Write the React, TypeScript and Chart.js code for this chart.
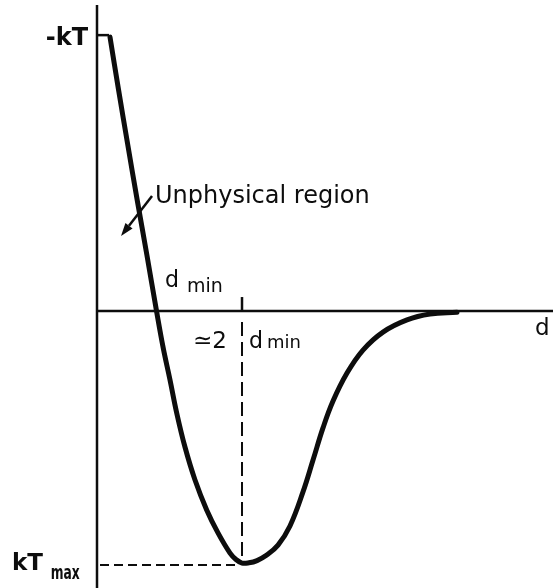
import React, { useEffect, useRef } from "react";
import { Chart, registerables } from "chart.js";

Chart.register(...registerables);

// Pair potential versus separation d (d in units of the zero crossing, energy in units of kT)
const separation = [
  0.214, 0.355, 0.507, 0.661, 0.821, 0.979, 1.086, 1.201, 1.311, 1.447, 1.612, 1.804, 1.99, 2.188,
  2.286, 2.385, 2.5, 2.632, 2.78, 2.977, 3.174, 3.388, 3.553, 3.717, 3.882, 4.112, 4.375, 4.704, 5.099,
  5.477, 5.921,
];
const energy = [
  0.989, 0.798, 0.599, 0.401, 0.202, 0, -0.13, -0.249, -0.368, -0.491, -0.61, -0.718, -0.801, -0.874,
  -0.897, -0.91, -0.909, -0.901, -0.883, -0.845, -0.776, -0.653, -0.538, -0.422, -0.325, -0.224, -0.141,
  -0.076, -0.032, -0.011, -0.004,
];

const X_MIN = 0;
const X_MAX = 7.5;
const Y_MIN = -1.0;
const Y_MAX = 1.105;

const INK = "#0d0d0d";
const FONT = '"DejaVu Sans", "Liberation Sans", sans-serif';

type Label = { text: string; x: number; y: number; size: number; bold?: boolean; width?: number; align?: CanvasTextAlign };

const labels: Label[] = [
  { text: "-kT", x: -0.148, y: 0.96, size: 24, bold: true, width: 45, align: "right" },
  { text: "kT", x: -1.398, y: -0.935, size: 23, bold: true, width: 38 },
  { text: "max", x: -0.76, y: -0.968, size: 19, bold: true, width: 29 },
  { text: "Unphysical region", x: 0.954, y: 0.39, size: 24, width: 232 },
  { text: "d", x: 1.118, y: 0.087, size: 23, width: 14 },
  { text: "min", x: 1.48, y: 0.069, size: 19, width: 36 },
  { text: "≃2", x: 1.579, y: -0.134, size: 23, width: 37 },
  { text: "d", x: 2.5, y: -0.134, size: 23, width: 14 },
  { text: "min", x: 2.796, y: -0.134, size: 18, width: 36 },
  { text: "d", x: 7.204, y: -0.087, size: 23, width: 17 },
];

const arrowTail = { x: 0.905, y: 0.415 };
const arrowTip = { x: 0.395, y: 0.271 };

const sketchPlugin = {
  id: "potentialSketch",
  beforeDatasetsDraw(chart: any) {
    const { ctx, chartArea, scales } = chart;
    const px = (v: number) => scales.x.getPixelForValue(v);
    const py = (v: number) => scales.y.getPixelForValue(v);
    const x0 = px(0);
    const y0 = py(0);

    // minimum of the curve
    let iMin = 0;
    energy.forEach((e, i) => {
      if (e < energy[iMin]) iMin = i;
    });
    const xm = px(separation[iMin]);
    const ym = py(energy[iMin]);

    ctx.save();
    ctx.strokeStyle = INK;
    ctx.lineCap = "butt";

    // axes
    ctx.lineWidth = 2.5;
    ctx.beginPath();
    ctx.moveTo(x0, chartArea.top);
    ctx.lineTo(x0, chartArea.bottom);
    ctx.moveTo(x0, y0);
    ctx.lineTo(chartArea.right, y0);
    ctx.stroke();

    // -kT tick joining the start of the curve
    ctx.beginPath();
    ctx.moveTo(x0, py(energy[0]) - 2);
    ctx.lineTo(px(separation[0]) - 1, py(energy[0]) - 2);
    ctx.stroke();

    // tick above the axis at the minimum position
    ctx.beginPath();
    ctx.moveTo(xm, y0);
    ctx.lineTo(xm, y0 - 14);
    ctx.stroke();

    // dashed guides to the minimum
    ctx.lineWidth = 2;
    ctx.setLineDash([14, 6]);
    ctx.beginPath();
    ctx.moveTo(xm, y0 + 11);
    ctx.lineTo(xm, ym);
    ctx.stroke();
    ctx.setLineDash([9, 5]);
    ctx.beginPath();
    ctx.moveTo(x0 + 3, ym + 2);
    ctx.lineTo(xm - 2, ym + 2);
    ctx.stroke();
    ctx.restore();
  },
  afterDatasetsDraw(chart: any) {
    const { ctx, scales } = chart;
    const px = (v: number) => scales.x.getPixelForValue(v);
    const py = (v: number) => scales.y.getPixelForValue(v);
    ctx.save();
    ctx.fillStyle = INK;
    ctx.strokeStyle = INK;
    ctx.textBaseline = "alphabetic";
    labels.forEach((l) => {
      ctx.font = `${l.bold ? "bold " : ""}${l.size}px ${FONT}`;
      ctx.textAlign = l.align || "left";
      if (l.width) ctx.fillText(l.text, px(l.x), py(l.y), l.width);
      else ctx.fillText(l.text, px(l.x), py(l.y));
    });

    // pointer from the label into the repulsive wall
    const tx = px(arrowTail.x);
    const ty = py(arrowTail.y);
    const hx = px(arrowTip.x);
    const hy = py(arrowTip.y);
    const ang = Math.atan2(hy - ty, hx - tx);
    const headLen = 13;
    const headHalf = 4.5;
    const bx = hx - headLen * Math.cos(ang);
    const by = hy - headLen * Math.sin(ang);
    ctx.lineWidth = 2.5;
    ctx.beginPath();
    ctx.moveTo(tx, ty);
    ctx.lineTo(bx, by);
    ctx.stroke();
    ctx.beginPath();
    ctx.moveTo(hx, hy);
    ctx.lineTo(bx + headHalf * Math.sin(ang), by - headHalf * Math.cos(ang));
    ctx.lineTo(bx - headHalf * Math.sin(ang), by + headHalf * Math.cos(ang));
    ctx.closePath();
    ctx.fill();
    ctx.restore();
  },
};

export default function App() {
  const canvasRef = useRef<HTMLCanvasElement | null>(null);

  useEffect(() => {
    if (!canvasRef.current) return;
    const chart = new Chart(canvasRef.current, {
      type: "line",
      data: {
        datasets: [
          {
            data: separation.map((d, i) => ({ x: d, y: energy[i] })),
            borderColor: INK,
            borderWidth: 5,
            pointRadius: 0,
            fill: false,
            tension: 0.4,
            borderCapStyle: "round",
            borderJoinStyle: "round",
          },
        ],
      },
      options: {
        animation: false,
        responsive: false,
        devicePixelRatio: 1,
        layout: { padding: { left: 97, right: 3, top: 5, bottom: 0 } },
        plugins: { legend: { display: false }, tooltip: { enabled: false } },
        scales: {
          x: { type: "linear", min: X_MIN, max: X_MAX, display: false },
          y: { type: "linear", min: Y_MIN, max: Y_MAX, display: false },
        },
      },
      plugins: [sketchPlugin],
    });
    return () => chart.destroy();
  }, []);

  return (
    <div style={{ position: "fixed", left: 0, top: 0, width: 556, height: 588, background: "#ffffff" }}>
      <canvas ref={canvasRef} width={556} height={588} />
    </div>
  );
}
